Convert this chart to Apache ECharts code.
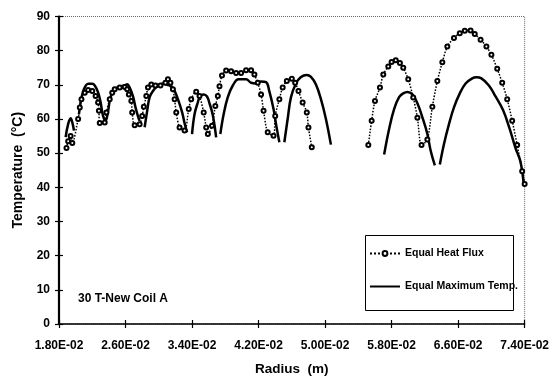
<!DOCTYPE html>
<html>
<head>
<meta charset="utf-8">
<script src="https://cdn.jsdelivr.net/npm/echarts@6/dist/echarts.min.js"></script>
<style>
  html, body { margin: 0; padding: 0; background: #fff; }
  #main { width: 552px; height: 381px; }
</style>
</head>
<body>
<div id="main"></div>
<script>
// radius (m) / temperature (C), null = gap between coil sections
const fluxRadius = [0.0189, 0.0191, 0.0194, 0.0196,
  0.0203, 0.0205, 0.0207, 0.0211, 0.0215, 0.0220, 0.0224, 0.0227, 0.0228, 0.0229,
  0.0235, 0.0237, 0.0241, 0.0244, 0.0247, 0.0253, 0.0259, 0.0262, 0.0264, 0.0267, 0.0268, 0.0271,
  0.0277, 0.0280, 0.0282, 0.0285, 0.0287, 0.0291, 0.0296, 0.0302, 0.0308, 0.0311, 0.0314, 0.0317, 0.0319, 0.0321, 0.0325,
  0.0331, 0.0336, 0.0339, 0.0345, 0.0349, 0.0354, 0.0357, 0.0359,
  0.0364, 0.0368, 0.0371, 0.0373, 0.0376, 0.0381, 0.0387, 0.0393, 0.0399, 0.0405, 0.0411, 0.0415, 0.0419, 0.0423, 0.0426, 0.0431,
  0.0438, 0.0440, 0.0445, 0.0449, 0.0454, 0.0460, 0.0464, 0.0468, 0.0473, 0.0478, 0.0480, 0.0484,
  null,
  0.0552, 0.0556, 0.0560, 0.0566, 0.0570, 0.0576, 0.0580, 0.0585, 0.0590, 0.0594, 0.0600, 0.0606, 0.0611, 0.0616,
  0.0623, 0.0629, 0.0635, 0.0641, 0.0647, 0.0655, 0.0662, 0.0668, 0.0675, 0.0680, 0.0687, 0.0694, 0.0700, 0.0707, 0.0713, 0.0719, 0.0725, 0.0731, 0.0737, 0.0740]
const fluxTemp = [51.5, 53.5, 55, 53,
  60, 63.4, 65.8, 67.7, 68.5, 68.2, 66.7, 64.8, 62.4, 58.8,
  59, 61.9, 65.8, 67.7, 68.7, 69.2, 69.4, 68.7, 67.2, 65.3, 61.9, 58.2,
  58.5, 60.9, 63.6, 66.7, 69.2, 70.1, 69.8, 69.8, 70.6, 71.6, 70.6, 68.7, 65.8, 61.9, 57.5,
  56.6, 62.9, 65.8, 68, 66.7, 61.9, 57.5, 55.6,
  58, 63.8, 66.7, 69.6, 72.7, 74.2, 74, 73.5, 73.5, 74.3, 74.3, 73, 70.6, 67.2, 62.4, 56.1,
  55.1, 60.9, 65.8, 69.2, 71.1, 71.8, 70.6, 68.2, 64.8, 61.9, 57.5, 51.7,
  null,
  52.4, 59.5, 65.3, 69.2, 73, 75.4, 76.7, 77.2, 76.4, 75, 71.6, 66.3, 60.4, 52.4,
  54, 63.6, 71.1, 76.6, 81.2, 83.7, 85.1, 85.8, 85.9, 84.9, 83.2, 81.2, 78.8, 74.7, 70.6, 65.8, 59.5, 52.4, 44.7, 41]

const maxRadius = [0.0188, 0.0191, 0.0194, 0.0196, 0.0198,
  null,
  0.0204, 0.0206, 0.0209, 0.0212, 0.0215, 0.0220, 0.0223, 0.0227, 0.0230, 0.0233, 0.0236,
  0.0239, 0.0242, 0.0247, 0.0253, 0.0259, 0.0262, 0.0265, 0.0269, 0.0272, 0.0275, 0.0277,
  null,
  0.0283, 0.0286, 0.0289, 0.0293, 0.0298, 0.0305, 0.0310, 0.0313, 0.0318, 0.0323, 0.0328, 0.0331, 0.0334,
  null,
  0.0340, 0.0343, 0.0347, 0.0350, 0.0354, 0.0358, 0.0361, 0.0365, 0.0369,
  null,
  0.0374, 0.0378, 0.0383, 0.0389, 0.0396, 0.0405, 0.0411, 0.0417, 0.0423, 0.0429, 0.0433, 0.0438, 0.0441, 0.0445,
  null,
  0.0451, 0.0455, 0.0459, 0.0465, 0.0471, 0.0478, 0.0483, 0.0489, 0.0495, 0.0501, 0.0507,
  null,
  0.0571, 0.0577, 0.0583, 0.0589, 0.0594, 0.0599, 0.0605, 0.0611, 0.0617, 0.0623, 0.0627, 0.0632,
  null,
  0.0638, 0.0643, 0.0649, 0.0655, 0.0662, 0.0669, 0.0677, 0.0682, 0.0688, 0.0697, 0.0705, 0.0714, 0.0722, 0.0729, 0.0735, 0.0739]
const maxTemp = [54.7, 58.5, 60.2, 59, 56.6,
  null,
  61.4, 64.9, 68.1, 69.7, 70.3, 70.3, 69.8, 67.8, 64.9, 60.9, 59.5,
  62.3, 66.4, 68.7, 69.5, 69.8, 70.2, 69.2, 66.6, 63.4, 60.8, 59.4,
  null,
  57.6, 62.3, 66.4, 68.2, 69.5, 70.4, 70, 69.8, 68.7, 65.8, 62, 58.8, 56.1,
  null,
  55.6, 61.4, 64.9, 66.9, 67.2, 66.6, 64.6, 61.1, 54.6,
  null,
  55.6, 61.4, 66.4, 69.8, 71.6, 71.6, 70.6, 70.4, 71, 70.8, 68.1, 62.9, 58.5, 53.2,
  null,
  53.2, 60, 66.4, 70.4, 72.3, 72.9, 72.3, 70.1, 65.8, 60, 52.5,
  null,
  49.6, 57.1, 62.9, 66.4, 67.5, 67.9, 67.2, 64.6, 60.5, 55.6, 50.7, 46.4,
  null,
  46.7, 52.7, 58.5, 63.4, 67.5, 70.4, 71.9, 72.2, 71.9, 69.8, 66.6, 62.6, 57.1, 51.5, 47.5, 40.6]

const FONT = 'Liberation Sans, Arial, sans-serif'

function pairs (rs, ts) {
  return rs.map((r, i) => r === null ? ['-', '-'] : [r, ts[i]])
}

function sciLabel (v) {
  const [m, e] = v.toExponential(2).toUpperCase().split('E')
  const n = parseInt(e, 10)
  return m + 'E' + (n < 0 ? '-' : '+') + String(Math.abs(n)).padStart(2, '0')
}

const chart = echarts.init(document.getElementById('main'))
chart.setOption({
  animation: false,
  backgroundColor: '#fff',
  textStyle: { fontFamily: FONT, color: '#000' },
  title: {
    text: '30 T-New Coil A',
    left: 78,
    top: 293,
    padding: 0,
    textStyle: { fontFamily: FONT, fontSize: 12, fontWeight: 'bold', color: '#000' }
  },
  grid: {
    left: 59,
    right: 26,
    top: 16.5,
    bottom: 54.5,
    show: true,
    borderColor: '#666',
    borderWidth: 1,
    borderType: 'dotted'
  },
  legend: {
    orient: 'vertical',
    left: 369,
    top: 248,
    padding: 0,
    itemGap: 22,
    itemWidth: 30,
    itemHeight: 6,
    textStyle: { fontFamily: FONT, fontSize: 10.5, fontWeight: 'bold', color: '#000' },
    data: [
      { name: 'Equal Heat Flux' },
      { name: 'Equal Maximum Temp.', itemStyle: { opacity: 0 } }
    ]
  },
  graphic: [{
    type: 'rect',
    shape: { x: 365.5, y: 235.5, width: 148, height: 75 },
    style: { fill: 'none', stroke: '#000', lineWidth: 1 },
    z: 1
  }],
  xAxis: [{
    type: 'value',
    min: 0.018,
    max: 0.074,
    interval: 0.008,
    name: 'Radius  (m)',
    nameLocation: 'middle',
    nameGap: 38,
    nameTextStyle: { fontFamily: FONT, fontSize: 13.5, fontWeight: 'bold', color: '#000' },
    axisLine: { lineStyle: { color: '#000', width: 1.5 } },
    axisTick: { length: 4, lineStyle: { color: '#000', width: 1.2 } },
    axisLabel: { margin: 16, fontFamily: FONT, fontSize: 12, fontWeight: 'bold', color: '#000', formatter: sciLabel },
    splitLine: { show: false }
  }, {
    type: 'value',
    position: 'bottom',
    min: 0.018,
    max: 0.074,
    interval: 0.008,
    axisLine: { show: false },
    axisTick: { inside: true, length: 4, lineStyle: { color: '#000', width: 1.2 } },
    axisLabel: { show: false },
    splitLine: { show: false }
  }],
  yAxis: [{
    type: 'value',
    min: 0,
    max: 90,
    interval: 10,
    name: 'Temperature  (°C)',
    nameLocation: 'middle',
    nameGap: 34,
    nameTextStyle: { fontFamily: FONT, fontSize: 14, fontWeight: 'bold', color: '#000' },
    axisLine: { show: true, lineStyle: { color: '#000', width: 2.2 } },
    axisTick: { show: true, length: 4, lineStyle: { color: '#000', width: 1.2 } },
    axisLabel: { margin: 9, fontFamily: FONT, fontSize: 12, fontWeight: 'bold', color: '#000' },
    splitLine: { show: false }
  }, {
    type: 'value',
    position: 'left',
    min: 0,
    max: 90,
    interval: 10,
    axisLine: { show: false },
    axisTick: { show: true, inside: true, length: 4, lineStyle: { color: '#000', width: 1.2 } },
    axisLabel: { show: false },
    splitLine: { show: false }
  }],
  series: [
    {
      name: 'Equal Heat Flux',
      type: 'line',
      xAxisIndex: 0,
      yAxisIndex: 0,
      smooth: 0.3,
      connectNulls: false,
      symbol: 'emptyCircle',
      symbolSize: 4,
      color: '#000',
      lineStyle: { color: '#000', width: 1.5, type: 'dotted' },
      itemStyle: { color: '#000', borderColor: '#000', borderWidth: 1.1 },
      data: pairs(fluxRadius, fluxTemp)
    },
    {
      name: 'Equal Maximum Temp.',
      type: 'line',
      xAxisIndex: 0,
      yAxisIndex: 0,
      smooth: 0.4,
      connectNulls: false,
      showSymbol: false,
      symbol: 'none',
      color: '#000',
      lineStyle: { color: '#000', width: 2.5 },
      data: pairs(maxRadius, maxTemp)
    }
  ]
})
</script>
</body>
</html>
